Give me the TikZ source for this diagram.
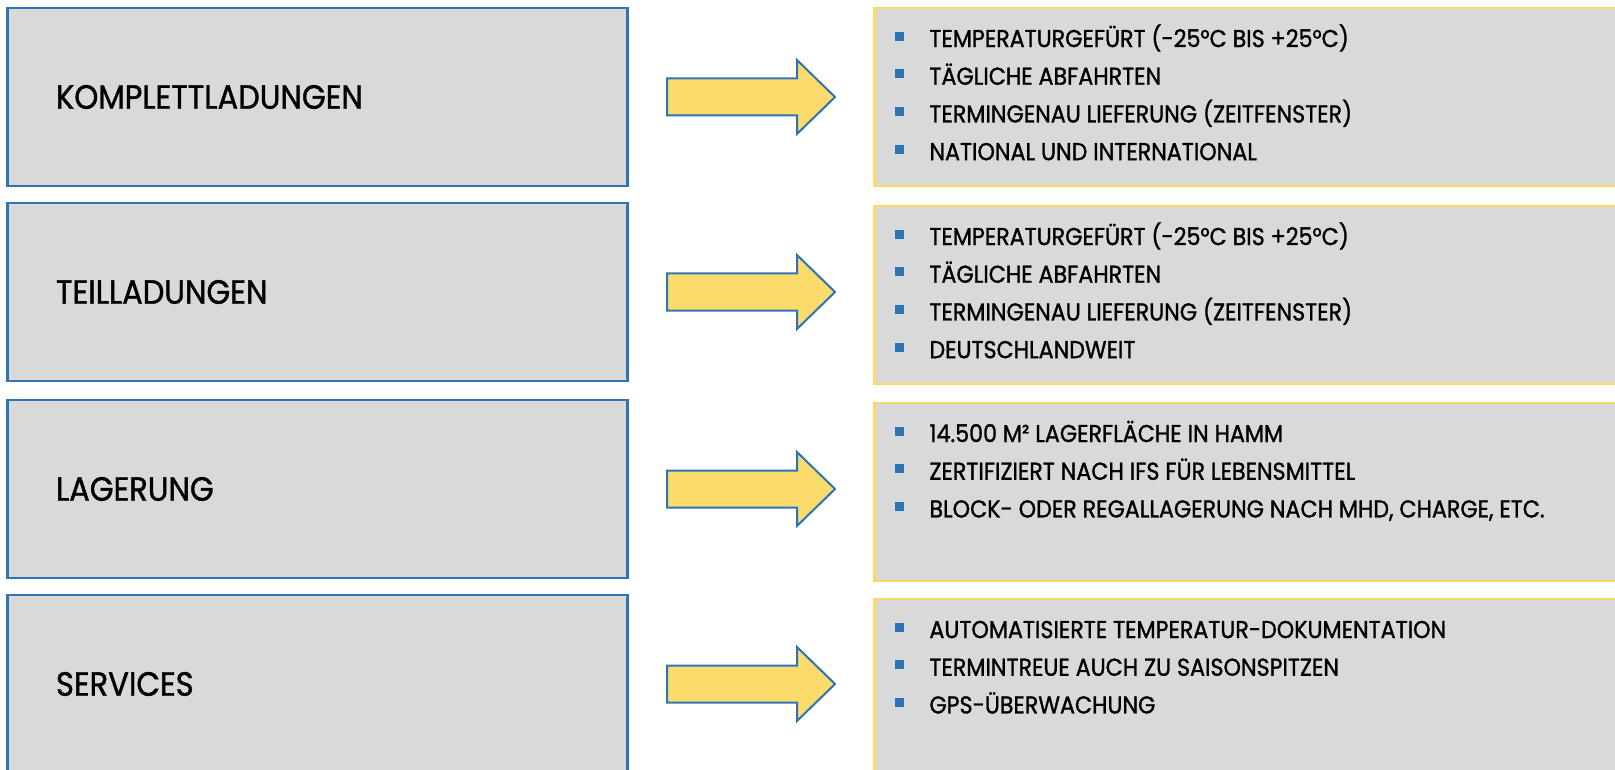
\documentclass[tikz,border=0pt]{standalone}
\usepackage{fontspec}
\setmainfont{Poppins}[FakeStretch=0.91,FakeBold=1.2]
\usetikzlibrary{calc}

\definecolor{kastengrau}{HTML}{D9D9D9}
\definecolor{randblau}{HTML}{2E74B5}
\definecolor{randgelb}{HTML}{FFD966}
\definecolor{pfeilgelb}{HTML}{FADB6B}

% blauer Aufzaehlungspunkt
\newcommand{\bul}{\textcolor{randblau}{\rule[6.5pt]{9pt}{9pt}}\hspace{25.5pt}}

\tikzset{
  leistung/.style={rectangle, draw=randblau, line width=2.5pt, fill=kastengrau,
    minimum width=620pt, minimum height=178pt, text width=523pt, align=left,
    inner xsep=48.5pt, font=\fontsize{33.6}{40}\selectfont},
  details/.style={rectangle, draw=randgelb, line width=2.5pt, fill=kastengrau,
    minimum width=760pt, minimum height=178pt},
  punkt/.style={anchor=base west, inner sep=0pt, font=\fontsize{24.4}{30}\selectfont},
  pfeilstil/.style={draw=randblau, line width=2pt, fill=pfeilgelb, line join=miter},
  pics/pfeil/.style={code={
    \draw[pfeilstil] (-84,-18.5) -- (46,-18.5) -- (46,-37) -- (84,0)
      -- (46,37) -- (46,18.5) -- (-84,18.5) -- cycle;}}
}

\begin{document}
\begin{tikzpicture}[x=1pt,y=-1pt]
  \useasboundingbox (0,0) rectangle (1615,770);

  % linke Spalte
  \node[leistung] (links1) at (317.5,97) {KOMPLETTLADUNGEN};
  \node[leistung] (links2) at (317.5,292) {TEILLADUNGEN};
  \node[leistung] (links3) at (317.5,489) {LAGERUNG};
  \node[leistung] (links4) at (317.5,684) {SERVICES};

  % rechte Spalte
  \node[details] (rechts1) at (1254.5,97) {};
  \node[details] (rechts2) at (1254.5,295) {};
  \node[details] (rechts3) at (1254.5,492) {};
  \node[details] (rechts4) at (1254.5,688) {};

  % Pfeile
  \foreach \i in {1,...,4}
    \pic at ($(links\i.east)!0.5!(rechts\i.west |- links\i.east)$) {pfeil};

  % Stichpunkte
  \foreach \txt [count=\j] in {TEMPERATURGEFÜRT (-25°C BIS +25°C), TÄGLICHE ABFAHRTEN,
      TERMINGENAU LIEFERUNG (ZEITFENSTER), NATIONAL UND INTERNATIONAL}
    \node[punkt] (p1\j) at ($(rechts1.north west)+(21.5,{40.3+37.7*(\j-1)})$) {\bul\txt};
  \foreach \txt [count=\j] in {TEMPERATURGEFÜRT (-25°C BIS +25°C), TÄGLICHE ABFAHRTEN,
      TERMINGENAU LIEFERUNG (ZEITFENSTER), DEUTSCHLANDWEIT}
    \node[punkt] (p2\j) at ($(rechts2.north west)+(21.5,{40.3+37.7*(\j-1)})$) {\bul\txt};
  \foreach \txt [count=\j] in {14.500 M² LAGERFLÄCHE IN HAMM, ZERTIFIZIERT NACH IFS FÜR LEBENSMITTEL,
      {BLOCK- ODER REGALLAGERUNG NACH MHD, CHARGE, ETC.}}
    \node[punkt] (p3\j) at ($(rechts3.north west)+(21.5,{40.3+37.7*(\j-1)})$) {\bul\txt};
  \foreach \txt [count=\j] in {AUTOMATISIERTE TEMPERATUR-DOKUMENTATION, TERMINTREUE AUCH ZU SAISONSPITZEN,
      GPS-ÜBERWACHUNG}
    \node[punkt] (p4\j) at ($(rechts4.north west)+(21.5,{40.3+37.7*(\j-1)})$) {\bul\txt};
\end{tikzpicture}
\end{document}
